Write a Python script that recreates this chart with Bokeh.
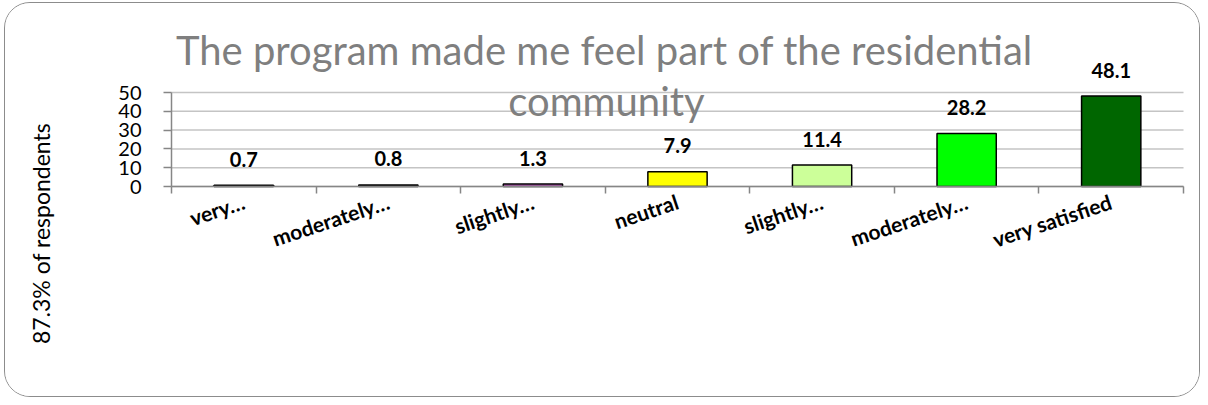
import math
from bokeh.plotting import figure
from bokeh.models import Range1d, FixedTicker, Label, ColumnDataSource
from bokeh.core.properties import value
from bokeh.embed import file_html
from bokeh.resources import INLINE

# ---- data ----
categories = ["very dissatisfied", "moderately dissatisfied", "slightly dissatisfied",
              "neutral", "slightly satisfied", "moderately satisfied", "very satisfied"]
tick_labels = ["very…", "moderately…", "slightly…", "neutral",
               "slightly…", "moderately…", "very satisfied"]
values = [0.7, 0.8, 1.3, 7.9, 11.4, 28.2, 48.1]
value_labels = ["0.7", "0.8", "1.3", "7.9", "11.4", "28.2", "48.1"]
colors = ["#7030A0", "#262626", "#CC66CC", "#FFFF00", "#CCFF99", "#00FF00", "#006600"]
y_ticks = [0, 10, 20, 30, 40, 50]
title_lines = ["The program made me feel part of the residential", "community"]
y_title = "87.3% of respondents"

n = len(categories)
xs = [i + 0.5 for i in range(n)]
src = ColumnDataSource(dict(x=xs, top=values, color=colors, lab=value_labels, cat=categories))
grid_src = ColumnDataSource(dict(x0=[0] * len(y_ticks), x1=[n] * len(y_ticks), y=y_ticks))

FONT = "Lato"
W, H = 1196, 395
# pixel scale of the plotting area (0..n across 1012 px, 0..50 across 94 px)
PX_X = 1012 / n
PX_Y = 94 / 50
LEFT, RIGHT, TOP, BOTTOM = 166, 18, 183, 212   # distances from canvas edges to the value axes

p = figure(width=W, height=H, output_backend="svg", toolbar_location=None,
           x_range=Range1d(-LEFT / PX_X, n + RIGHT / PX_X),
           y_range=Range1d(-BOTTOM / PX_Y, TOP / PX_Y),
           min_border_left=0, min_border_right=0, min_border_top=0, min_border_bottom=0)
p.outline_line_color = None
p.background_fill_color = "white"
p.border_fill_color = "white"
p.styles = {"border": "1.5px solid #8c8c8c", "border-radius": "26px", "overflow": "hidden",
            "margin-left": "4px", "margin-top": "2px"}

# horizontal gridlines limited to the plotting area
p.xgrid.grid_line_color = None
p.ygrid.grid_line_color = None
p.segment(x0="x0", x1="x1", y0="y", y1="y", source=grid_src, line_color="#C4C4C4",
          line_width=1.5)

p.vbar(x="x", top="top", width=0.41, bottom=0, source=src, fill_color="color",
       line_color="black", line_width=1.5)

p.text(x="x", y="top", text="lab", source=src, text_align="center", text_baseline="middle",
       y_offset=-26, text_font=value(FONT), text_font_style="bold", text_font_size="20px",
       text_color="black")

# y axis
p.yaxis.fixed_location = 0
p.yaxis.bounds = (0, 50)
p.yaxis.ticker = FixedTicker(ticks=y_ticks)
p.yaxis.axis_line_color = "#868686"
p.yaxis.axis_line_width = 1.5
p.yaxis.major_tick_line_color = "#868686"
p.yaxis.major_tick_line_width = 1.5
p.yaxis.major_tick_out = 8
p.yaxis.major_tick_in = 0
p.yaxis.minor_tick_line_color = None
p.yaxis.major_label_text_font = FONT
p.yaxis.major_label_text_font_size = "20px"
p.yaxis.major_label_text_color = "black"
p.yaxis.major_label_standoff = 22

# x axis
p.xaxis.fixed_location = 0
p.xaxis.bounds = (0, n)
p.xaxis.ticker = FixedTicker(ticks=xs, minor_ticks=list(range(n + 1)))
p.xaxis.major_label_overrides = {x: t for x, t in zip(xs, tick_labels)}
p.xaxis.axis_line_color = "#868686"
p.xaxis.axis_line_width = 1.5
p.xaxis.major_tick_line_color = None
p.xaxis.major_tick_out = 0
p.xaxis.major_tick_in = 0
p.xaxis.minor_tick_line_color = "#868686"
p.xaxis.minor_tick_line_width = 1.5
p.xaxis.minor_tick_out = 7
p.xaxis.minor_tick_in = 0
p.xaxis.major_label_orientation = 0.32
p.xaxis.major_label_text_font = FONT
p.xaxis.major_label_text_font_style = "bold"
p.xaxis.major_label_text_font_size = "21px"
p.xaxis.major_label_text_color = "black"
p.xaxis.major_label_standoff = 7

# title (two lines)
p.add_layout(Label(x=599, y=349, x_units="screen", y_units="screen", text=title_lines[0],
                   text_align="center", text_baseline="alphabetic", text_font=FONT,
                   text_font_size="40px", text_color="#7F7F7F"))
p.add_layout(Label(x=601, y=298, x_units="screen", y_units="screen", text=title_lines[1],
                   text_align="center", text_baseline="alphabetic", text_font=FONT,
                   text_font_size="40px", text_color="#7F7F7F"))
# y axis title
p.add_layout(Label(x=35, y=165, x_units="screen", y_units="screen", text=y_title,
                   angle=math.pi / 2, text_align="center", text_baseline="middle",
                   text_font=FONT, text_font_size="23px", text_color="black"))

open("out.html", "w").write(file_html(p, INLINE))
